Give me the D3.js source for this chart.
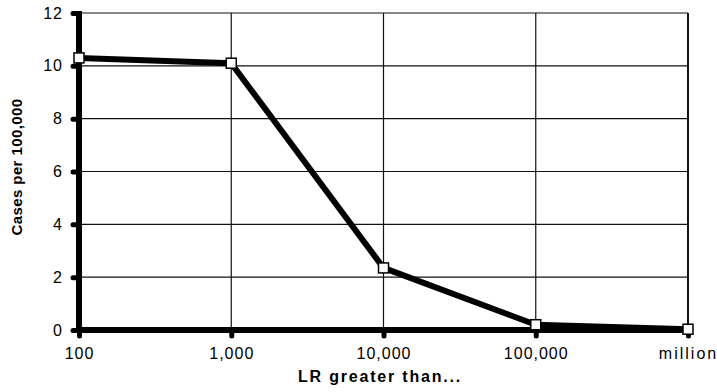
<!DOCTYPE html>
<html>
<head>
<meta charset="utf-8">
<script src="https://cdn.jsdelivr.net/npm/d3@7"></script>
<style>
  body { margin: 0; background: #fff; }
  svg { display: block; }
</style>
</head>
<body>
<svg id="chart" width="717" height="392"></svg>
<script>
// chart data
const categories = ["100", "1,000", "10,000", "100,000", "million"];
const cases = [10.3, 10.1, 2.35, 0.2, 0.03];
const yTicks = [0, 2, 4, 6, 8, 10, 12];

const svg = d3.select("#chart");
const plotLeft = 79, plotRight = 688, plotTop = 13, plotBottom = 330;

const x = d3.scalePoint().domain(categories).range([plotLeft, plotRight]);
const y = d3.scaleLinear().domain([0, 12]).range([plotBottom, plotTop]);

// grid
svg.append("g")
  .selectAll("line")
  .data(yTicks.slice(1))
  .join("line")
  .attr("x1", plotLeft).attr("x2", plotRight)
  .attr("y1", d => y(d)).attr("y2", d => y(d))
  .attr("stroke", "#111").attr("stroke-width", 1.2);

svg.append("g")
  .selectAll("line")
  .data(categories.slice(1))
  .join("line")
  .attr("x1", d => x(d)).attr("x2", d => x(d))
  .attr("y1", plotTop).attr("y2", plotBottom)
  .attr("stroke", "#111")
  .attr("stroke-width", d => d === "million" ? 2 : 1.2);

// axes
const yAxis = svg.append("g")
  .attr("transform", `translate(${plotLeft},0)`)
  .call(d3.axisLeft(y).tickValues(yTicks).tickSize(6).tickPadding(10));
const xAxis = svg.append("g")
  .attr("transform", `translate(0,${plotBottom})`)
  .call(d3.axisBottom(x).tickSize(6).tickPadding(12));

[yAxis, xAxis].forEach(g => {
  g.select(".domain").attr("stroke", "#000").attr("stroke-width", 6);
  g.selectAll(".tick line").attr("stroke", "#000").attr("stroke-width", 5)
    .attr("stroke-linecap", "round");
  g.selectAll(".tick text")
    .attr("fill", "#000")
    .style("font", "16px 'Liberation Sans', Arial, sans-serif")
    .style("letter-spacing", "1px");
});
yAxis.select(".domain").attr("d", `M0,${plotTop - 2}V${plotBottom + 3}`);
xAxis.select(".domain").attr("d", `M${plotLeft - 3},0H${plotRight + 2}`);
xAxis.selectAll(".tick text").filter(d => d === "million").style("letter-spacing", "2px");

// line
const line = d3.line()
  .x((d, i) => x(categories[i]))
  .y(d => y(d));

svg.append("path")
  .datum(cases)
  .attr("d", line)
  .attr("fill", "none")
  .attr("stroke", "#000")
  .attr("stroke-width", 6)
  .attr("stroke-linejoin", "round");

svg.append("g")
  .selectAll("rect")
  .data(cases)
  .join("rect")
  .attr("x", (d, i) => x(categories[i]) - 5)
  .attr("y", d => y(d) - 5)
  .attr("width", 10).attr("height", 10)
  .attr("fill", "#fff")
  .attr("stroke", "#000")
  .attr("stroke-width", 1.5);

// axis titles
svg.append("text")
  .attr("x", 380).attr("y", 382)
  .attr("text-anchor", "middle")
  .style("font", "bold 16px 'Liberation Sans', Arial, sans-serif")
  .style("letter-spacing", "1.8px")
  .text("LR greater than...");

svg.append("text")
  .attr("transform", "translate(22,167) rotate(-90)")
  .attr("text-anchor", "middle")
  .style("font", "bold 15px 'Liberation Sans', Arial, sans-serif")
  .style("letter-spacing", "0.4px")
  .text("Cases per 100,000");
</script>
</body>
</html>
